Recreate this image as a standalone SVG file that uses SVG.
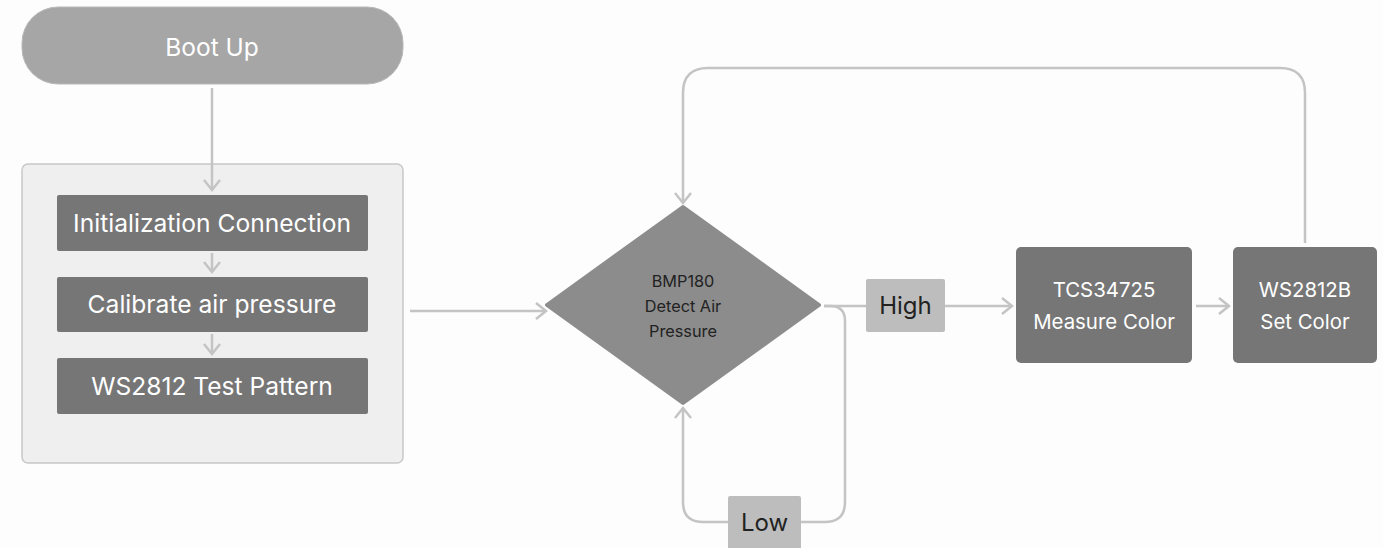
<svg xmlns="http://www.w3.org/2000/svg" width="1383" height="548" viewBox="0 0 1383 548">
<style>
text{font-family:Inter,"Liberation Sans",sans-serif;text-anchor:middle}
.dark{fill:#767676}
.wt{fill:#ffffff}
.con{fill:none;stroke:#c4c4c4;stroke-width:2.5;stroke-linejoin:round}
.lbl{fill:#bdbdbd}
.lt{fill:#222222;font-size:24px}
</style>
<defs>
<marker id="ah" viewBox="0 0 20 20" refX="18" refY="10" markerWidth="20" markerHeight="20" markerUnits="userSpaceOnUse" orient="auto">
<path d="M8,2 L18,10 L8,18" fill="none" stroke="#c4c4c4" stroke-width="2.5"/>
</marker>
</defs>
<rect width="1383" height="548" fill="#fdfdfd"/>
<g id="boot">
<rect x="22" y="7" width="381" height="77" rx="36" fill="#a6a6a6" stroke="#b8b8b8"/>
<text x="212" y="56" class="wt" font-size="24.5">Boot Up</text>
</g>
<g id="setup">
<rect x="22" y="164" width="381" height="299" rx="6" fill="#efefef" stroke="#c8c8c8" stroke-width="1.5"/>
</g>
<g id="init">
<rect x="57" y="195" width="311" height="56" rx="2" class="dark"/>
<text x="212" y="232" class="wt" font-size="24.6">Initialization Connection</text>
</g>
<g id="calib">
<rect x="57" y="277" width="311" height="55" rx="2" class="dark"/>
<text x="212" y="313" class="wt" font-size="24.6">Calibrate air pressure</text>
</g>
<g id="test">
<rect x="57" y="358" width="311" height="56" rx="2" class="dark"/>
<text x="212" y="395" class="wt" font-size="24.6">WS2812 Test Pattern</text>
</g>
<g id="bmp">
<path d="M683,207 L819,305 L683,403 L547,305 Z" fill="#8c8c8c" stroke="#8c8c8c" stroke-width="4" stroke-linejoin="round"/>
<text x="683" y="287" fill="#222" font-size="16.3">BMP180</text>
<text x="683" y="312" fill="#222" font-size="16.3">Detect Air</text>
<text x="683" y="337" fill="#222" font-size="16.3">Pressure</text>
</g>
<g id="tcs">
<rect x="1016" y="247" width="176" height="116" rx="5" class="dark"/>
<text x="1104" y="297" class="wt" font-size="20.4">TCS34725</text>
<text x="1104" y="329" class="wt" font-size="20.4">Measure Color</text>
</g>
<g id="ws">
<rect x="1233" y="247" width="144" height="116" rx="5" class="dark"/>
<text x="1305" y="297" class="wt" font-size="20.4">WS2812B</text>
<text x="1305" y="329" class="wt" font-size="20.4">Set Color</text>
</g>
<g id="connectors">
<path d="M212,88 L212,190" class="con" stroke="#b0b0b0" marker-end="url(#ah)"/>
<path d="M212,253 L212,272" class="con" marker-end="url(#ah)"/>
<path d="M212,334 L212,354" class="con" marker-end="url(#ah)"/>
<path d="M410,311 L546,311" class="con" marker-end="url(#ah)"/>
<path d="M824,306 L866,306" class="con"/>
<path d="M945,306 L1012,306" class="con" marker-end="url(#ah)"/>
<path d="M1196,306 L1229,306" class="con" marker-end="url(#ah)"/>
<path d="M1305,243 L1305,93 Q1305,68 1280,68 L708,68 Q683,68 683,93 L683,203" class="con" marker-end="url(#ah)"/>
<path d="M824,306 L830,306 Q845,306 845,321 L845,502 Q845,522 825,522 L801,522" class="con"/>
<path d="M728,522 L703,522 Q683,522 683,502 L683,408" class="con" marker-end="url(#ah)"/>
</g>
<g id="high">
<rect x="866" y="279" width="79" height="53" rx="2" class="lbl"/>
<text x="905.5" y="314" class="lt">High</text>
</g>
<g id="low">
<rect x="728" y="496" width="73" height="56" rx="2" class="lbl"/>
<text x="764.5" y="531" class="lt">Low</text>
</g>
</svg>
